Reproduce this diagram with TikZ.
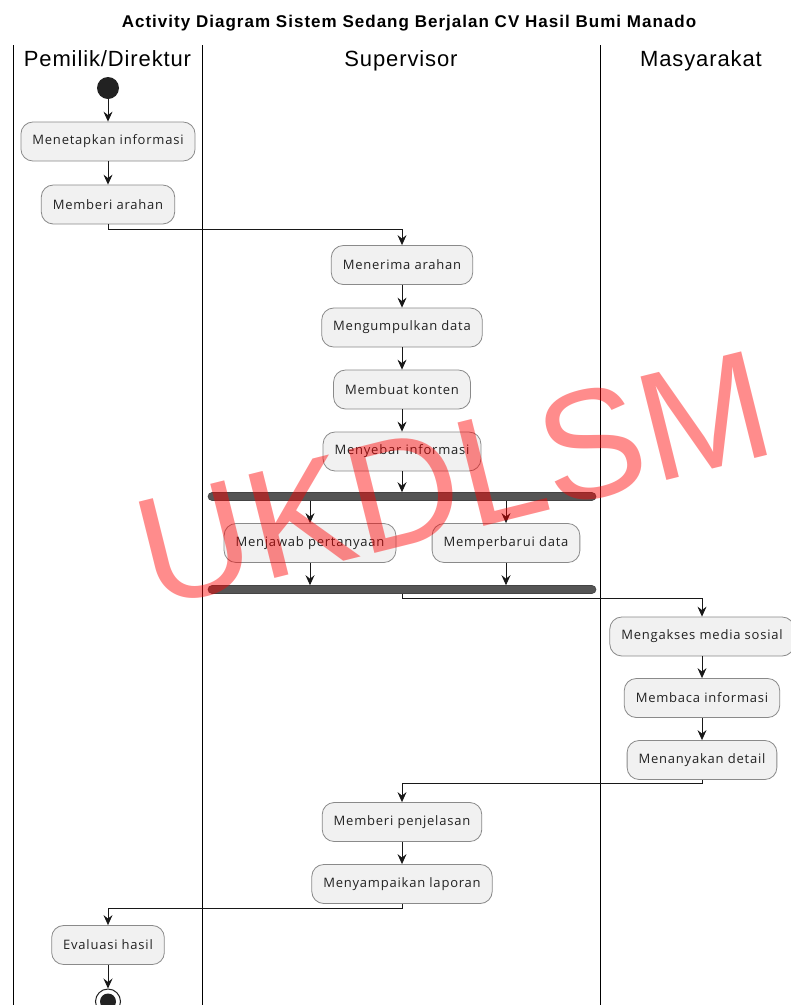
\documentclass[tikz,border=0pt]{standalone}
\usepackage{fontspec}
\usetikzlibrary{arrows.meta,calc,positioning}
\newfontfamily\actfont[LetterSpace=6]{Open Sans}
\newfontfamily\lanefont[LetterSpace=4]{Liberation Sans}
\newfontfamily\titlefont[LetterSpace=6]{Liberation Sans}
\newfontfamily\markfont{Liberation Sans}
\definecolor{actfill}{HTML}{F1F1F1}
\definecolor{actline}{HTML}{8A8A8A}
\definecolor{wire}{HTML}{181818}
\definecolor{barfill}{HTML}{555555}
\definecolor{ink}{HTML}{222222}
\tikzset{
  action/.style={draw=actline, fill=actfill, line width=0.8pt, rounded corners=12pt,
    minimum height=39pt, inner xsep=11.5pt, inner ysep=0pt,
    font=\actfont\fontsize{13}{15}\selectfont, text=ink},
  syncbar/.style={draw=barfill!80!black, fill=barfill, line width=0.6pt, rounded corners=4pt,
    minimum width=388pt, minimum height=8pt, inner sep=0pt},
  flow/.style={draw=wire, line width=0.9pt,
    -{Stealth[length=10pt,width=9pt,inset=3.5pt]}},
  lane/.style={draw=black, line width=1pt},
  lanehead/.style={font=\lanefont\fontsize{22}{26}\selectfont, anchor=base, inner sep=0pt},
  startdot/.style={circle, fill=ink, minimum size=22pt, inner sep=0pt},
  enddot/.style={circle, draw=ink, line width=1pt, fill=white, minimum size=25pt, inner sep=0pt},
}
\begin{document}
\begin{tikzpicture}[x=1pt, y=-1pt]
\useasboundingbox (0,0) rectangle (791,1005);
\fill[white] (0,0) rectangle (791,1005);

% title
\node[anchor=base, inner sep=0pt, font=\titlefont\bfseries\fontsize{17}{20}\selectfont] (title)
  at (409,27.5) {Activity Diagram Sistem Sedang Berjalan CV Hasil Bumi Manado};

% swimlanes
\coordinate (l0t) at (13,45);  \coordinate (l0b) at (13,1005);
\coordinate (l1t) at (202,45); \coordinate (l1b) at (202,1005);
\coordinate (l2t) at (600,45); \coordinate (l2b) at (600,1005);
\draw[lane] (l0t) -- (l0b);
\draw[lane] (l1t) -- (l1b);
\draw[lane] (l2t) -- (l2b);
\node[lanehead] (h0) at (107.5,66) {Pemilik/Direktur};
\node[lanehead] (h1) at (401,66) {Supervisor};
\node[lanehead] (h2) at (701,66) {Masyarakat};

% activities
\node[startdot] (start) at (108,88) {};
\node[action] (n1) at (108,141.5) {Menetapkan informasi};
\node[action] (n2) at (108,204.5) {Memberi arahan};
\node[action] (n3) at (402,265) {Menerima arahan};
\node[action] (n4) at (402,327.5) {Mengumpulkan data};
\node[action] (n5) at (402,389.5) {Membuat konten};
\node[action] (n6) at (402,451.5) {Menyebar informasi};
\node[syncbar] (fork) at (402,496.5) {};
\node[action] (n7) at (310,543) {Menjawab pertanyaan};
\node[action] (n8) at (506,543) {Memperbarui data};
\node[syncbar] (join) at (402,589.5) {};
\node[action] (n9) at (702,636.5) {Mengakses media sosial};
\node[action] (n10) at (702,698) {Membaca informasi};
\node[action] (n11) at (702,760) {Menanyakan detail};
\node[action] (n12) at (402,822) {Memberi penjelasan};
\node[action] (n13) at (402,884) {Menyampaikan laporan};
\node[action] (n14) at (108,945) {Evaluasi hasil};
\node[enddot] (end) at (108,1001.5) {};
\fill[ink] (end.center) circle (8pt);

% control flow
\draw[flow] (start) -- (n1);
\draw[flow] (n1) -- (n2);
\draw[flow] (n2.south) -- ++(0,5) -| (n3.north);
\draw[flow] (n3) -- (n4);
\draw[flow] (n4) -- (n5);
\draw[flow] (n5) -- (n6);
\draw[flow] (n6) -- (fork.north -| n6);
\draw[flow] (fork.south -| n7) -- (n7);
\draw[flow] (fork.south -| n8) -- (n8);
\draw[flow] (n7) -- (join.north -| n7);
\draw[flow] (n8) -- (join.north -| n8);
\draw[flow] (join.south -| n6) -- ++(0,5) -| (n9.north);
\draw[flow] (n9) -- (n10);
\draw[flow] (n10) -- (n11);
\draw[flow] (n11.south) -- ++(0,4) -| (n12.north);
\draw[flow] (n12) -- (n13);
\draw[flow] (n13.south) -- ++(0,5) -| (n14.north);
\draw[flow] (n14) -- (end);

% watermark stamp
\node[text=red, opacity=0.45, rotate=14, inner sep=0pt,
  font=\markfont\fontsize{155}{160}\selectfont] (stamp) at (454,479) {UKDLSM};
\end{tikzpicture}
\end{document}
